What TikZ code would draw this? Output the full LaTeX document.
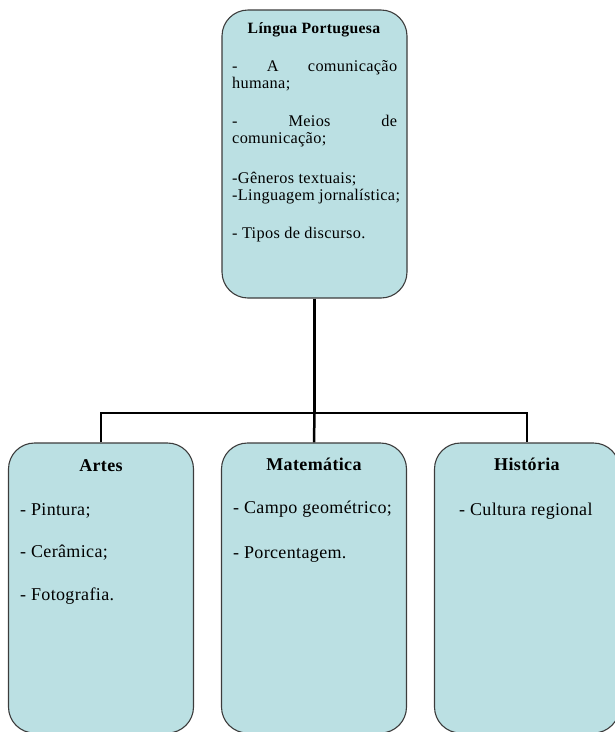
\documentclass[tikz,border=0pt]{standalone}
\usepackage{fontspec}
\setmainfont{Liberation Serif}[LetterSpace=2]
\definecolor{boxfill}{RGB}{187,224,227}
\definecolor{boxline}{RGB}{60,60,60}
\begin{document}
\begin{tikzpicture}[x=1pt,y=-1pt,
  panel/.style={draw=boxline, line width=1.1pt, fill=boxfill, rounded corners=26pt,
                minimum width=185pt, inner sep=0pt},
  conn/.style={line width=2.5pt, black, line join=miter},
  txt/.style={anchor=base west, inner sep=0pt, font=\fontsize{16.3}{18}\selectfont},
  btxt/.style={anchor=base west, inner sep=0pt, font=\fontsize{18}{20}\selectfont},
  ttl/.style={anchor=base, inner sep=0pt, font=\fontsize{15.7}{17}\selectfont\bfseries},
  head/.style={anchor=base, inner sep=0pt, font=\fontsize{18}{20}\selectfont\bfseries}]
\useasboundingbox (0,0) rectangle (615,732);
\begin{scope}
\clip (0,0) rectangle (615,732);
\coordinate (bus) at (314.5,413);
\node[panel, minimum height=288pt] (top) at (314.5,154) {};
\node[panel, minimum height=290pt] (artes) at (101,588) {};
\node[panel, minimum height=290pt] (mat) at (314,588) {};
\node[panel, minimum height=290pt] (hist) at (527,588) {};
\draw[conn] (top.south) -- (bus);
\draw[conn] (artes.north) |- (bus) -| (hist.north);
\draw[conn] (bus) -- (mat.north);
\end{scope}
% top box text
\node[ttl] (t0) at (314,33) {Língua Portuguesa};
\node[txt] (t1) at (232,71) {\hbox to 165pt{-\hfill A\hfill comunicação}};
\node[txt] (t2) at (232,88) {humana;};
\node[txt] (t3) at (232,126) {\hbox to 165pt{-\hfill Meios\hfill de}};
\node[txt] (t4) at (232,143) {comunicação;};
\node[txt] (t5) at (232,183) {-Gêneros textuais;};
\node[txt] (t6) at (232,200) {-Linguagem jornalística;};
\node[txt] (t7) at (232,238) {- Tipos de discurso.};
% Artes
\node[head] (a0) at (101,471) {Artes};
\node[btxt] (a1) at (20,515) {- Pintura;};
\node[btxt] (a2) at (20,557) {- Cerâmica;};
\node[btxt] (a3) at (20,600) {- Fotografia.};
% Matematica
\node[head] (m0) at (314,470) {Matemática};
\node[btxt] (m1) at (233,513) {- Campo geométrico;};
\node[btxt] (m2) at (233,558) {- Porcentagem.};
% Historia
\node[head] (h0) at (527,470) {História};
\node[btxt] (h1) at (459,515) {- Cultura regional};
\end{tikzpicture}
\end{document}
